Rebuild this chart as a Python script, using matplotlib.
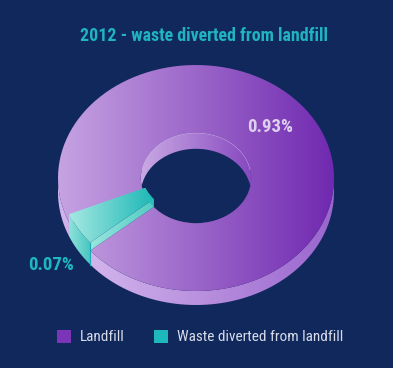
import numpy as np
import matplotlib
matplotlib.use('Agg')
import matplotlib.pyplot as plt
from matplotlib.colors import LinearSegmentedColormap
from matplotlib.patches import Polygon, Patch

# shares as printed on the chart, and as actually drawn (the slice is thinner than 7%)
labels = ['Landfill', 'Waste diverted from landfill']
printed = ['0.93%', '0.07%']
drawn_shares = [0.953, 0.047]
legend_colors = ['#7B35B8', '#1FB8BA']
title = '2012 - waste diverted from landfill'

BG = '#11285C'
cx, cy = 196, 178       # centre of top face, pixels
rx, ry = 138, 113
hole = 0.4
depth = 14
lift = 8                # slice is raised above the ring
start = 203             # degrees, where the slice begins

plt.rcParams['font.family'] = ['Roboto Condensed', 'Liberation Sans Narrow', 'Liberation Sans', 'DejaVu Sans']
fig = plt.figure(figsize=(3.93, 3.68), dpi=100, facecolor=BG)
ax = fig.add_axes([0, 0, 1, 1])
ax.set_facecolor(BG)
ax.axis('off')


def pts(a0, a1, r=1.0, dy=0):
    t = np.radians(np.linspace(a0, a1, 120))
    return np.column_stack([cx + rx * r * np.cos(t), cy - ry * r * np.sin(t) + dy])


def fill(poly, c_left, c_right, x0, x1, zorder):
    cmap = LinearSegmentedColormap.from_list('g', [c_left, c_right])
    grad = np.linspace(0, 1, 256).reshape(1, -1)
    y0, y1 = poly[:, 1].min(), poly[:, 1].max()
    im = ax.imshow(grad, cmap=cmap, extent=[x0, x1, y1, y0], aspect='auto', zorder=zorder)
    im.set_clip_path(Polygon(poly, closed=True, transform=ax.transData))
    return im


sweep = drawn_shares[1] * 360
a_slice0, a_slice1 = start, start + sweep
a_land0, a_land1 = a_slice1, start + 360

# outer wall of the landfill ring
top_edge = pts(a_land0, 360)
wall = np.vstack([top_edge, pts(360, a_land0, dy=depth)])
fill(wall, '#D2B4EC', '#9A66CE', 90, 334, 1)
back = np.vstack([pts(180, a_slice0), pts(a_slice0, 180, dy=depth)])
fill(back, '#D2B4EC', '#CBA9E8', 58, 90, 1)

# hole: lit wall first, then the see-through part
hole_top = pts(0, 360, hole)
fill(hole_top, '#C9A9E4', '#8748C0', cx - rx * hole, cx + rx * hole, 2)
see = Polygon(pts(0, 360, hole, dy=16), closed=True, facecolor=BG, edgecolor='none', zorder=3)
ax.add_patch(see)
see.set_clip_path(Polygon(hole_top, closed=True, transform=ax.transData))
ax.plot(*pts(10, 170, hole).T, color='#D4BCEC', lw=0.6, zorder=4)

# top face of landfill
face = np.vstack([pts(a_land0, a_land1), pts(a_land1, a_land0, hole)])
fill(face, '#C6A3E2', '#7029B0', cx - rx, cx + rx, 5)

# raised slice
outer = pts(a_slice0, a_slice1, dy=-lift)
inner = pts(a_slice1, a_slice0, hole, dy=-lift)
outer_wall = np.vstack([outer, pts(a_slice1, a_slice0, dy=depth)])
fill(outer_wall, '#8FE2DA', '#45C6C0', outer[:, 0].min(), outer[:, 0].max(), 6)
ax.plot([outer[-1, 0]] * 2, [outer[-1, 1], outer[-1, 1] + lift + depth], color='#16ABB6', lw=0.8, zorder=7)

# radial side of slice, down to the landfill face
ra = pts(a_slice1, a_slice1, dy=-lift)[0]
rb = pts(a_slice1, a_slice1, hole, dy=-lift)[0]
side = np.array([ra, rb, rb + [0, lift], ra + [0, lift]])
fill(side, '#98E6DE', '#52CCC4', ra[0], rb[0], 6)
inner_wall = np.vstack([inner, pts(a_slice0, a_slice1, hole)])
fill(inner_wall, '#2CC0BA', '#2CC0BA', inner[:, 0].min(), inner[:, 0].max(), 6)

top = np.vstack([outer, inner])
fill(top, '#A6E8E2', '#1DB8B6', top[:, 0].min(), top[:, 0].max(), 8)

# text
ax.text(204.5, 36, title, ha='center', va='center', color='#1FB4C0', fontsize=12.9, fontweight='bold', zorder=10)
ax.text(270.5, 127, printed[0], ha='center', va='center', color='#DDD0EE', fontsize=13.5, fontweight='bold', zorder=10)
ax.text(51.5, 265, printed[1], ha='center', va='center', color='#1FB8BE', fontsize=13.5, fontweight='bold', zorder=10)

handles = [Patch(facecolor=c, edgecolor='none', label=l) for c, l in zip(legend_colors, labels)]
leg = ax.legend(handles=handles, ncol=2, frameon=False, loc='center left',
                bbox_to_anchor=(57 / 393, 1 - 337 / 368), bbox_transform=fig.transFigure,
                fontsize=11, handlelength=0.92, handleheight=0.92, handletextpad=0.6,
                columnspacing=1.9, borderpad=0, borderaxespad=0, labelcolor='#D8DCE8')

ax.set_xlim(0, 393)
ax.set_ylim(368, 0)
fig.savefig('out.png', dpi=100, facecolor=BG)
